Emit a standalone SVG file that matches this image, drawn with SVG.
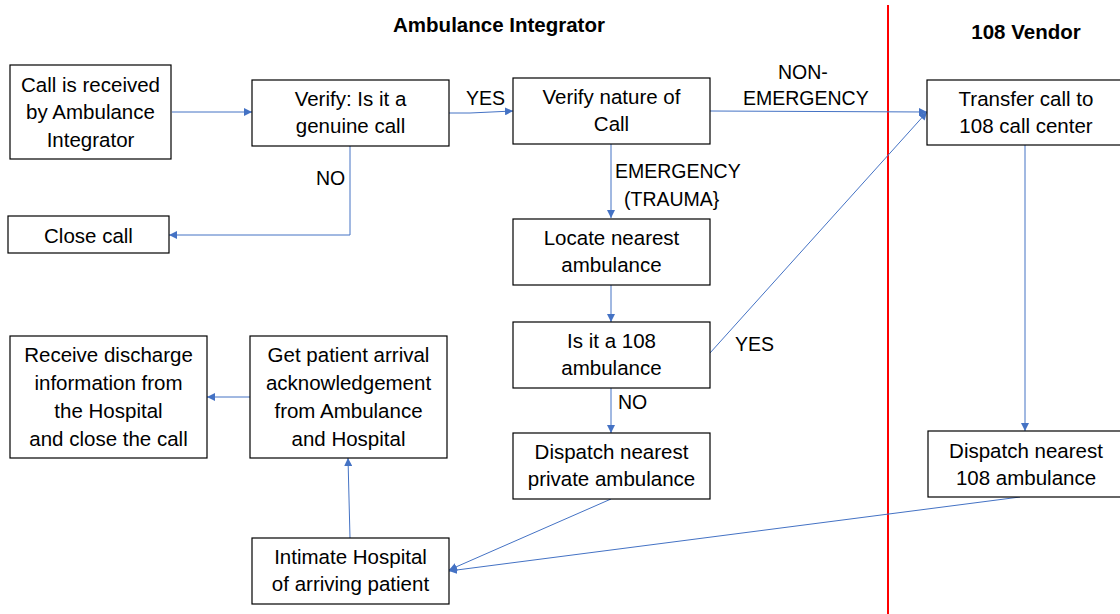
<svg xmlns="http://www.w3.org/2000/svg" width="1120" height="614" viewBox="0 0 1120 614">
  <style>
    .box { fill: #ffffff; stroke: #000000; stroke-width: 1.2; }
    .t { font-family: "Liberation Sans", Arial, sans-serif; font-size: 20.5px; fill: #000000; text-anchor: middle; }
    .lbl { font-family: "Liberation Sans", Arial, sans-serif; font-size: 19.5px; fill: #000000; }
    .hdr { font-family: "Liberation Sans", Arial, sans-serif; font-size: 20.5px; font-weight: bold; fill: #000000; text-anchor: middle; }
    .conn { fill: none; stroke: #4472C4; stroke-width: 1; marker-end: url(#arrow); }
  </style>
  <defs>
    <marker id="arrow" viewBox="0 0 10 10" refX="10" refY="5" markerWidth="8" markerHeight="8" markerUnits="userSpaceOnUse" orient="auto">
      <path d="M0,0 L10,5 L0,10 z" fill="#4472C4"/>
    </marker>
  </defs>

  <rect width="1120" height="614" fill="#ffffff"/>

  <!-- lane divider and lane titles -->
  <line x1="888" y1="5" x2="888" y2="614" stroke="#FF0000" stroke-width="2"/>
  <text class="hdr" x="499" y="32">Ambulance Integrator</text>
  <text class="hdr" x="1026" y="39">108 Vendor</text>

  <!-- connectors -->
  <g id="connectors">
    <line class="conn" x1="172" y1="112" x2="252" y2="112"/>
    <path class="conn" d="M449,113 L470,113 L513,111"/>
    <path class="conn" d="M350,146 L350,235 L169,235"/>
    <line class="conn" x1="611" y1="144" x2="611" y2="218"/>
    <line class="conn" x1="710" y1="111" x2="927" y2="112"/>
    <line class="conn" x1="611" y1="285" x2="611" y2="322"/>
    <line class="conn" x1="710" y1="353" x2="927" y2="112"/>
    <line class="conn" x1="611" y1="388" x2="611" y2="433"/>
    <line class="conn" x1="1025" y1="145" x2="1025" y2="431"/>
    <line class="conn" x1="611" y1="499" x2="449" y2="570"/>
    <line class="conn" x1="1020" y1="497" x2="449" y2="571"/>
    <line class="conn" x1="350" y1="538" x2="348" y2="458"/>
    <line class="conn" x1="250" y1="397" x2="207" y2="397"/>

    <text class="lbl" x="466" y="105">YES</text>
    <text class="lbl" x="316" y="185">NO</text>
    <text class="lbl" x="615" y="178">EMERGENCY</text>
    <text class="lbl" x="624" y="206">(TRAUMA}</text>
    <text class="lbl" x="778" y="79">NON-</text>
    <text class="lbl" x="743" y="105">EMERGENCY</text>
    <text class="lbl" x="735" y="351">YES</text>
    <text class="lbl" x="618" y="409">NO</text>
  </g>

  <!-- nodes -->
  <g id="call-received">
    <rect class="box" x="10" y="65" width="161" height="94"/>
    <text class="t" x="90.5" y="92">Call is received</text>
    <text class="t" x="90.5" y="119">by Ambulance</text>
    <text class="t" x="90.5" y="147">Integrator</text>
  </g>
  <g id="verify-genuine">
    <rect class="box" x="252" y="80" width="197" height="66"/>
    <text class="t" x="350.5" y="106">Verify: Is it a</text>
    <text class="t" x="350.5" y="133">genuine call</text>
  </g>
  <g id="close-call">
    <rect class="box" x="8" y="216" width="161" height="37"/>
    <text class="t" x="88.5" y="243">Close call</text>
  </g>
  <g id="verify-nature">
    <rect class="box" x="513" y="78" width="197" height="66"/>
    <text class="t" x="611.5" y="104">Verify nature of</text>
    <text class="t" x="611.5" y="131">Call</text>
  </g>
  <g id="locate-nearest">
    <rect class="box" x="513" y="219" width="197" height="66"/>
    <text class="t" x="611.5" y="245">Locate nearest</text>
    <text class="t" x="611.5" y="272">ambulance</text>
  </g>
  <g id="is-108">
    <rect class="box" x="513" y="322" width="197" height="66"/>
    <text class="t" x="611.5" y="348">Is it a 108</text>
    <text class="t" x="611.5" y="375">ambulance</text>
  </g>
  <g id="dispatch-private">
    <rect class="box" x="513" y="433" width="197" height="66"/>
    <text class="t" x="611.5" y="459">Dispatch nearest</text>
    <text class="t" x="611.5" y="486">private ambulance</text>
  </g>
  <g id="transfer-108">
    <rect class="box" x="927" y="80" width="200" height="65"/>
    <text class="t" x="1026" y="106">Transfer call to</text>
    <text class="t" x="1026" y="133">108 call center</text>
  </g>
  <g id="dispatch-108">
    <rect class="box" x="928" y="431" width="200" height="66"/>
    <text class="t" x="1026" y="458">Dispatch nearest</text>
    <text class="t" x="1026" y="485">108 ambulance</text>
  </g>
  <g id="receive-discharge">
    <rect class="box" x="10" y="336" width="197" height="122"/>
    <text class="t" x="108.5" y="362">Receive discharge</text>
    <text class="t" x="108.5" y="390">information from</text>
    <text class="t" x="108.5" y="418">the Hospital</text>
    <text class="t" x="108.5" y="446">and close the call</text>
  </g>
  <g id="arrival-ack">
    <rect class="box" x="250" y="336" width="197" height="122"/>
    <text class="t" x="348.5" y="362">Get patient arrival</text>
    <text class="t" x="348.5" y="390">acknowledgement</text>
    <text class="t" x="348.5" y="418">from Ambulance</text>
    <text class="t" x="348.5" y="446">and Hospital</text>
  </g>
  <g id="intimate-hospital">
    <rect class="box" x="252" y="538" width="197" height="66"/>
    <text class="t" x="350.5" y="564">Intimate Hospital</text>
    <text class="t" x="350.5" y="591">of arriving patient</text>
  </g>
</svg>
